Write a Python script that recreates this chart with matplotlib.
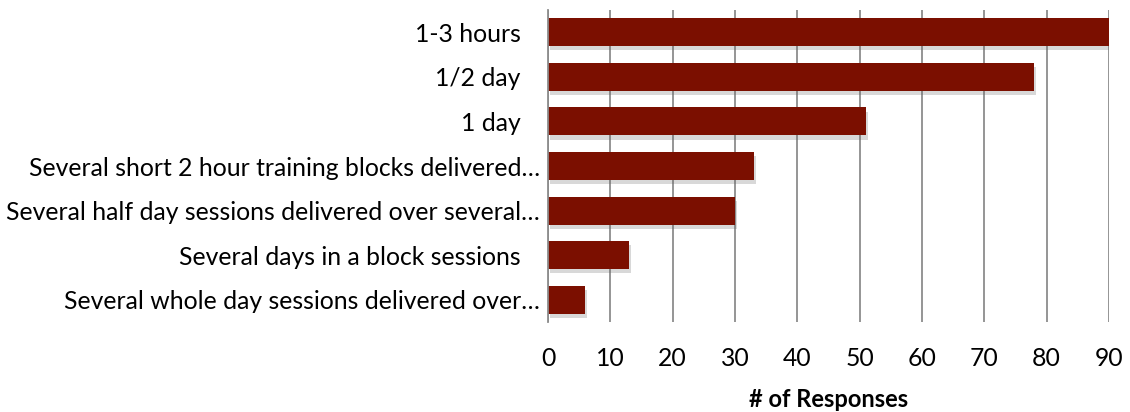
import matplotlib.pyplot as plt
import matplotlib.patheffects as pe

plt.rcParams['font.family'] = ['Lato', 'DejaVu Sans']

categories = ['1-3 hours   ', '1/2 day   ', '1 day   ',
              'Several short 2 hour training blocks delivered\u2026',
              'Several half day sessions delivered over several\u2026',
              'Several days in a block sessions   ',
              'Several whole day sessions delivered over\u2026']
responses = [90, 78, 51, 33, 30, 13, 6]
xticks = [0, 10, 20, 30, 40, 50, 60, 70, 80, 90]

bar_color = '#7b0f00'

fig = plt.figure(figsize=(11.3, 4.12), dpi=100)
ax = fig.add_axes([548/1130, 1 - 322/412, (1109 - 548)/1130, (322 - 10)/412])

ypos = list(range(len(categories)))
bars = ax.barh(ypos, responses, height=0.63, color=bar_color, zorder=3)
for b in bars:
    b.set_path_effects([pe.SimplePatchShadow(offset=(1.5, -3), shadow_rgbFace='#666666', alpha=0.25),
                        pe.Normal()])

ax.set_ylim(len(categories) - 0.5, -0.5)
ax.set_xlim(0, 90)
ax.set_xticks(xticks)
ax.set_yticks(ypos)
ax.set_yticklabels(categories, fontsize=17.8)
ax.tick_params(axis='both', length=0, colors='black')
ax.tick_params(axis='x', labelsize=17.8, pad=18)
ax.tick_params(axis='y', pad=6)

ax.xaxis.grid(True, color='#8c8c8c', linewidth=1.3, zorder=0)
ax.set_axisbelow(True)
for side in ['top', 'right', 'bottom']:
    ax.spines[side].set_visible(False)
ax.spines['left'].set_color('#8c8c8c')
ax.spines['left'].set_linewidth(1.3)
ax.spines['left'].set_zorder(4)

ax.set_xlabel('# of Responses', fontsize=17, fontweight='bold', labelpad=13)

fig.savefig('out.png', dpi=100)
